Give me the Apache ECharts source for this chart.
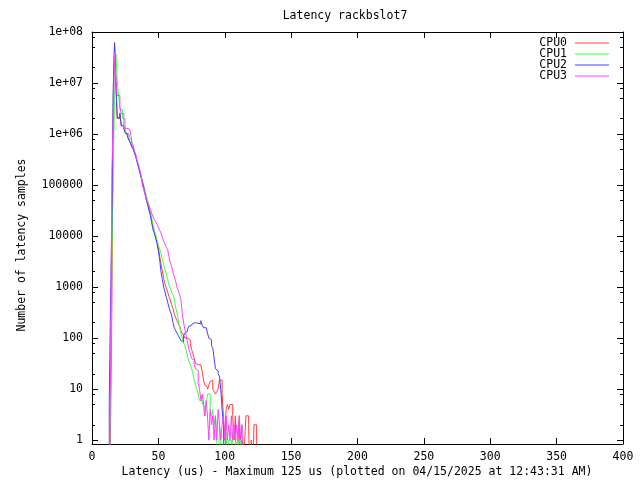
<!DOCTYPE html>
<html><head><meta charset="utf-8">
<script src="https://cdn.jsdelivr.net/npm/echarts@6/dist/echarts.min.js"></script>
<style>html,body{margin:0;padding:0;background:#fff}#c{width:640px;height:480px}</style>
</head><body><div id="c"></div>
<script>
// Histogram bins (latency in us)
const latency = [11,12,13,14,15,16,17,18,19,20,21,22,23,24,25,26,27,28,29,30,31,32,33,34,35,36,37,38,39,40,
 41,42,43,44,45,46,47,48,49,50,51,52,53,54,55,56,57,58,59,60,61,62,63,64,65,66,67,68,69,70,
 71,72,73,74,75,76,77,78,79,80,81,82,83,84,85,86,87,88,89,90,91,92,93,94,95,96,97,98,99,100,
 101,102,103,104,105,106,107,108,109,110,111,112,113,114,115,116,117,118,119,120,121,122,123,124,125,126];

const cpu0 = [0,0,0,2,500,5000000,63000000,9000000,2000000,2000000,
 2400000,1500000,1400000,1300000,1100000,1000000,870000,760000,680000,580000,
 520000,440000,370000,300000,240000,190000,150000,120000,95000,72000,
 55000,43000,34000,27000,20000,15000,12500,10000,8000,6000,
 4000,2800,2100,1500,1150,950,800,650,560,450,
 380,300,250,220,195,170,140,126,115,100,
 100,95,93,80,60,50,40,32,30,28,
 30,28,22,15,12,11,10,12,14,15,
 10,9,8,9,10,15,15,8,3,1,
 4,5,4,5,5,3,1,3,0,1,
 3,0,1,0,1,3,3,2,0,1,
 0,2,2,1,0,0];

const cpu1 = [0,0,0,12,5000,200000,5000000,37000000,11000000,5900000,
 3000000,3000000,2000000,2000000,1200000,1050000,1000000,800000,800000,700000,
 580000,450000,360000,280000,220000,180000,140000,110000,90000,75000,
 60000,50000,38000,30000,22000,17000,12600,10000,7900,6600,
 5600,4500,3500,2800,2200,1800,1400,1100,930,800,
 700,600,400,320,220,170,126,100,80,70,
 56,44,35,30,26,20,15,12,10,8,
 6,6,5,6,3,5,8,8,4,3,
 4,2,3,1,0,2,1,0,1,0,
 2,0,1,1,0,1,2,1,0,1,
 0,1,2,1,0,0,0,0,0,0,
 0,0,0,0,0,0];

const cpu2 = [0,0,6,600,20000,8500000,60000000,10000000,2100000,2100000,
 2600000,1450000,1450000,1260000,1050000,1000000,850000,740000,660000,560000,
 500000,420000,355000,280000,224000,178000,141000,112000,89000,66000,
 50000,40000,31600,25100,17800,13200,11200,8900,7100,5000,
 3400,2000,1400,1000,800,630,500,400,330,280,
 200,160,140,126,112,100,89,85,112,126,
 135,150,170,178,186,195,200,190,195,200,
 190,220,178,160,160,158,126,100,93,71,
 63,40,25,23,20,18,10,4,2,0,
 0,0,0,0,0,0,0,0,0,0,
 0,0,0,0,0,0,0,0,0,0,
 0,0,0,0,0,0];

const cpu3 = [0,0,0,30,200000,2000000,40000000,11000000,5700000,5700000,
 3400000,2500000,2500000,1300000,1300000,1300000,1260000,1260000,1100000,660000,
 600000,460000,400000,290000,250000,200000,150000,100000,80000,65000,
 51000,45000,40000,33000,28000,24000,21000,19000,17000,15000,
 13000,11500,9500,8000,7000,6000,5400,4000,3000,2500,
 2000,1600,1300,1000,850,710,560,300,200,145,
 110,80,60,50,40,37,30,25,23,13,
 10,6,8,5,3,6,3,1,4,2,
 3,1,3,1,4,2,1,2,3,1,
 3,1,2,1,3,1,2,1,2,1,
 3,1,2,0,0,0,0,0,0,0,
 0,0,0,0,0,0];

const seriesNames = ['CPU0','CPU1','CPU2','CPU3'];
const seriesValues = [cpu0, cpu1, cpu2, cpu3];
const seriesColors = ['#ff4040','#40ff40','#4040ff','#ff40ff'];

const xTickInterval = 50;
const yTickValues = [1,10,100,1000,10000,100000,1e6,1e7,1e8];
const yTickLabels = ['1','10','100','1000','10000','100000','1e+06','1e+07','1e+08'];
const yMinorTickValues = [2,5,8,20,50,80,200,500,800,2000,5000,8000,2e4,5e4,8e4,2e5,5e5,8e5,2e6,5e6,8e6,2e7,5e7,8e7];

const titleText = 'Latency rackbslot7';
const xLabelText = 'Latency (us) - Maximum 125 us (plotted on 04/15/2025 at 12:43:31 AM)';
const yLabelText = 'Number of latency samples';

const FONT = 'DejaVu Sans Mono';
const FS = 11.5;
const Y_MIN = 0.84, Y_MAX = 1e8;
const ZERO_FLOOR = 0.1; // empty bins drop below the axis and are clipped

const chart = echarts.init(document.getElementById('c'), null, {renderer: 'canvas'});

const black = {color: '#000', width: 1};
function yLabel(v) {
  const i = yTickValues.findIndex(t => Math.abs(t - v) / t < 1e-6);
  return i >= 0 ? yTickLabels[i] : '';
}
function yAxisDef(pos, major) {
  return {
    type: 'log', position: pos, min: Y_MIN, max: Y_MAX,
    axisLine: {show: major, onZero: false, lineStyle: black},
    axisTick: {show: true, inside: true, length: major ? 6 : 3, lineStyle: black,
               customValues: major ? yTickValues : yMinorTickValues},
    axisLabel: (major && pos === 'left') ? {show: true, customValues: yTickValues, formatter: yLabel,
               color: '#000', fontFamily: FONT, fontSize: FS, margin: 9} : {show: false},
    splitLine: {show: false}, minorTick: {show: false}
  };
}
function xAxisDef(pos) {
  return {
    type: 'value', position: pos, min: 0, max: 400, interval: xTickInterval,
    axisLine: {show: true, onZero: false, lineStyle: black},
    axisTick: {show: true, inside: true, length: 6, lineStyle: black},
    axisLabel: pos === 'bottom' ? {show: true, color: '#000', fontFamily: FONT, fontSize: FS, margin: 7} : {show: false},
    splitLine: {show: false}
  };
}

const option = {
  backgroundColor: '#fff',
  animation: false,
  grid: {left: 92, right: 17, top: 32, bottom: 36, containLabel: false, outerBoundsMode: 'none'},
  xAxis: [xAxisDef('bottom'), xAxisDef('top')],
  yAxis: [yAxisDef('left', true), yAxisDef('left', false), yAxisDef('right', true), yAxisDef('right', false)],
  legend: {
    data: seriesNames, orient: 'vertical', right: 31, top: 37, padding: 0,
    icon: 'rect', itemGap: -1, itemWidth: 34, itemHeight: 1, align: 'right', selectedMode: false,
    textStyle: {fontFamily: FONT, fontSize: FS, color: '#000', lineHeight: 11, height: 11, padding: [0, 3, 0, 0]}
  },
  graphic: [
    {type: 'text', x: 345, y: 16, style: {text: titleText, font: FS + 'px "' + FONT + '"', fill: '#000', textAlign: 'center', textVerticalAlign: 'middle'}},
    {type: 'text', x: 357, y: 472, style: {text: xLabelText, font: FS + 'px "' + FONT + '"', fill: '#000', textAlign: 'center', textVerticalAlign: 'middle'}},
    {type: 'text', x: 22, y: 245, rotation: Math.PI / 2, style: {text: yLabelText, font: FS + 'px "' + FONT + '"', fill: '#000', textAlign: 'center', textVerticalAlign: 'middle'}}
  ],
  series: seriesNames.map((name, k) => ({
    name: name, type: 'line', xAxisIndex: 0, yAxisIndex: 0,
    data: latency.map((x, i) => [x, seriesValues[k][i] > 0 ? seriesValues[k][i] : ZERO_FLOOR]),
    step: 'end', symbol: 'none', showSymbol: false, clip: true,
    lineStyle: {width: 1, color: seriesColors[k]}, itemStyle: {color: seriesColors[k]},
    emphasis: {disabled: true}
  }))
};
chart.setOption(option);
</script>
</body></html>
